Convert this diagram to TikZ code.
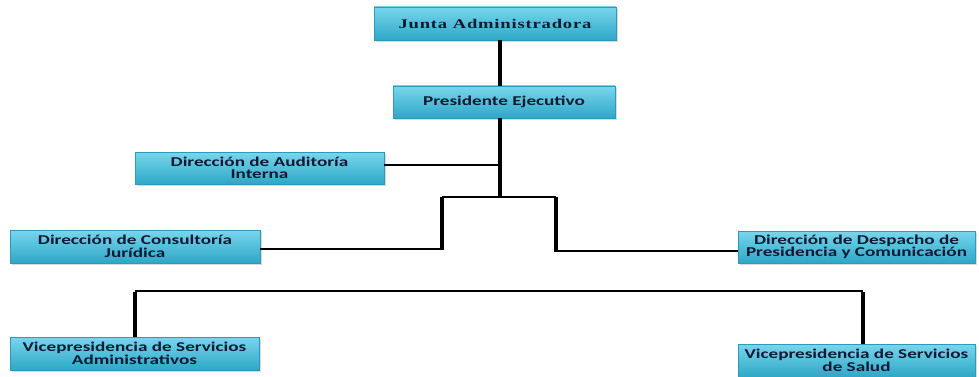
\documentclass[tikz,border=0pt]{standalone}
\usepackage{fontspec}
\newfontfamily\boxfont[FakeStretch=1.42]{Carlito}
\newfontfamily\juntafont[FakeStretch=1.4,LetterSpace=6]{Liberation Serif}
\usetikzlibrary{shadows}
\definecolor{boxtop}{HTML}{78D6EC}
\definecolor{boxbot}{HTML}{2EA7C6}
\definecolor{boxedge}{HTML}{2A9CBB}
\definecolor{ink}{HTML}{0E1A33}
\tikzset{
  orgbox/.style={draw=boxedge, line width=0.6pt, top color=boxtop, bottom color=boxbot,
    minimum height=32pt, inner sep=1pt, align=center, text=ink,
    font=\boxfont\bfseries\fontsize{13.5}{12.5}\selectfont,
    drop shadow={shadow xshift=1.5pt, shadow yshift=-1.8pt, opacity=0.3}},
  thick line/.style={line width=4pt, draw=black},
  thin line/.style={line width=2.6pt, draw=black},
}
\begin{document}
\begin{tikzpicture}[x=1pt,y=-1pt]
\useasboundingbox (0,0) rectangle (979,377);
\node[orgbox, minimum width=242pt, minimum height=33pt, font=\juntafont\bfseries\fontsize{13.3}{13}\selectfont] (junta) at (495,23.5) {Junta Administradora};
\node[orgbox, minimum width=222pt] (pres) at (504,102) {Presidente Ejecutivo};
\node[orgbox, minimum width=249pt] (audit) at (259.5,168) {Dirección de Auditoría\\Interna};
\node[orgbox, minimum width=250pt, minimum height=33pt] (consul) at (135,246.5) {Dirección de Consultoría\\Jurídica};
\node[orgbox, minimum width=237pt] (despa) at (856.5,247) {Dirección de Despacho de\\Presidencia y Comunicación};
\node[orgbox, minimum width=249pt, minimum height=33pt] (vadm) at (134.5,353.5) {Vicepresidencia de Servicios\\Administrativos};
\node[orgbox, minimum width=237pt, minimum height=33pt] (vsal) at (856.5,360.5) {Vicepresidencia de Servicios\\de Salud};

\coordinate (tjunc) at (500,197);
\coordinate (ajunc) at (500,165);
\coordinate (lcorner) at (442,197);
\coordinate (rcorner) at (556,197);
\coordinate (vleft) at (135,291);
\coordinate (vright) at (863,291);

\draw[thick line] (junta.south -| tjunc) -- (pres.north -| tjunc);
\draw[thick line] (pres.south -| tjunc) -- (tjunc);
\draw[thin line] (audit.east |- ajunc) -- (ajunc);
\draw[thin line] (lcorner) -- (rcorner);
\draw[thick line] (lcorner) -- (lcorner |- 0,249);
\draw[thin line] (consul.east |- 0,249) -- ([xshift=2pt]lcorner |- 0,249);
\draw[thick line] (rcorner) -- (rcorner |- 0,251);
\draw[thin line] ([xshift=-2pt]rcorner |- 0,251) -- (despa.west |- 0,251);
\draw[thin line] (vleft) -- (vright);
\draw[thick line] ([yshift=-1.3pt]vleft) -- (vadm.north -| vleft);
\draw[thick line] ([yshift=-1.3pt]vright) -- (vsal.north -| vright);
\end{tikzpicture}
\end{document}
